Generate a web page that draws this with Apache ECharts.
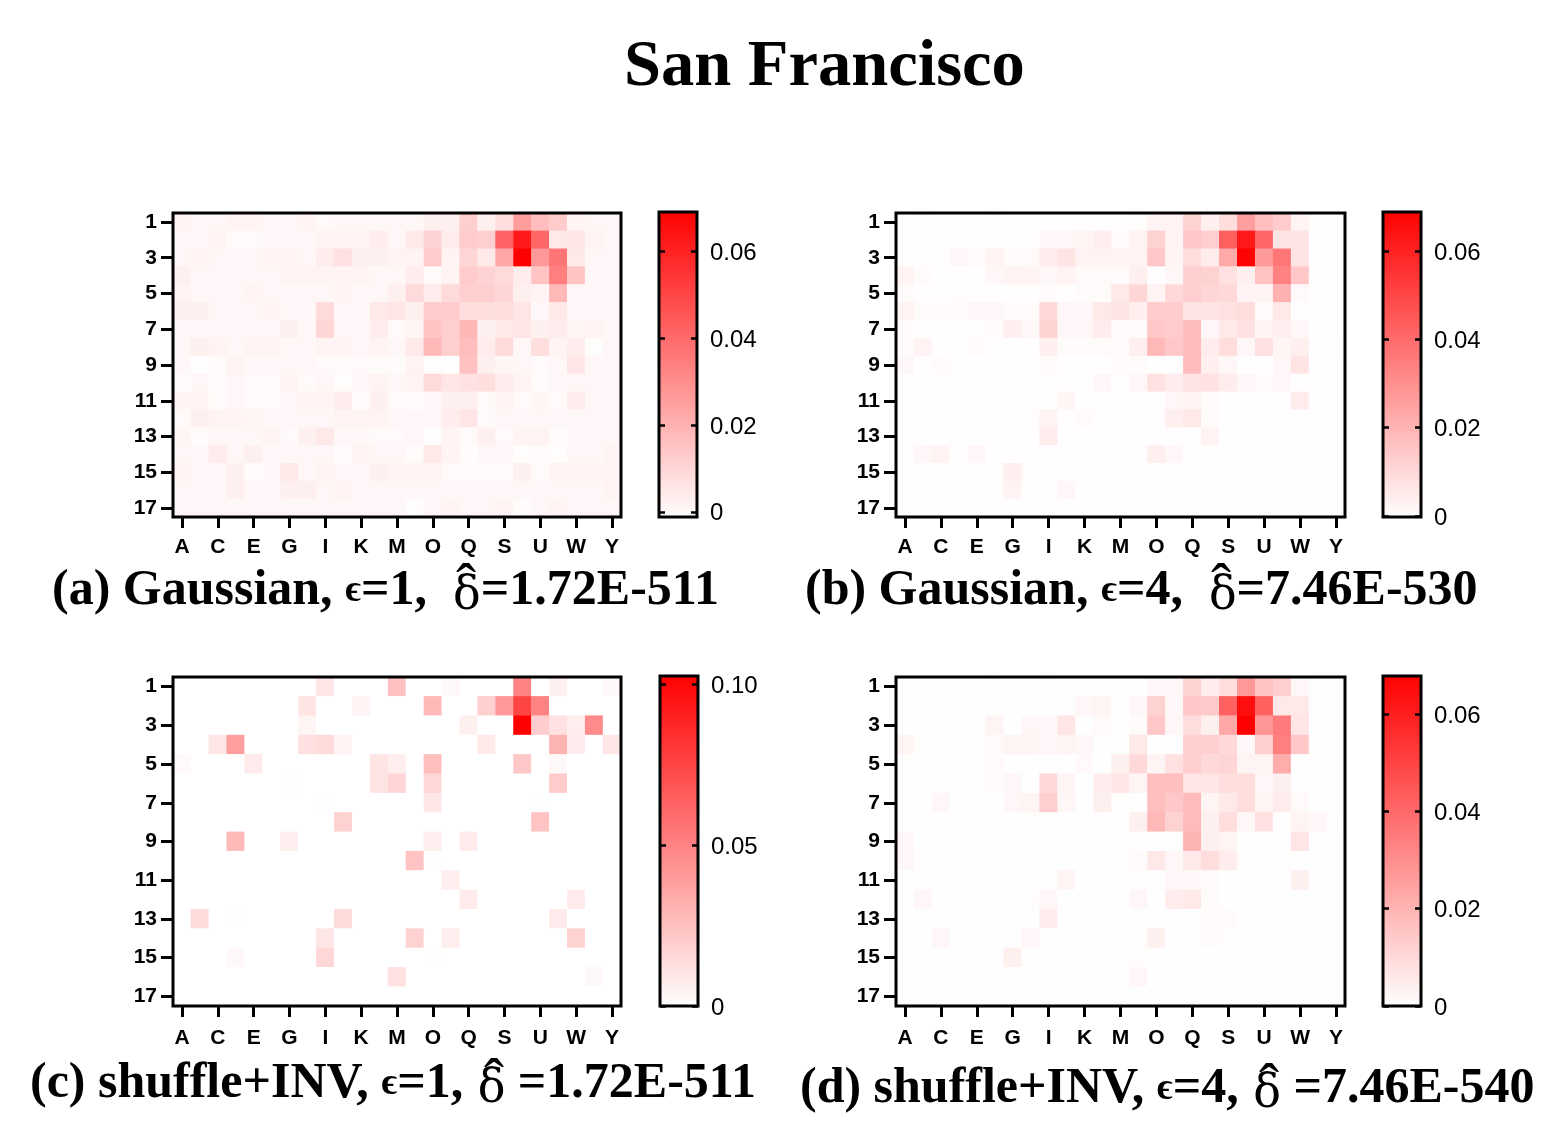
<!DOCTYPE html>
<html>
<head>
<meta charset="utf-8">
<title>San Francisco</title>
<script src="https://cdn.jsdelivr.net/npm/echarts@6/dist/echarts.min.js"></script>
<style>
  html, body { margin: 0; padding: 0; background: #ffffff; }
  #main { width: 1565px; height: 1144px; }
</style>
</head>
<body>
<div id="main"></div>
<script>
// 列 A..Y, 行 1..17
const columns = 'ABCDEFGHIJKLMNOPQRSTUVWXY'.split('')
const rows = Array.from({ length: 17 }, (_, i) => String(i + 1))

// values below are in units of 1e-3
const gaussianEps1 = [
  [2,1,1,2,2,1,1,2,.5,1,1,1,1,1,3,3,12,3,8,26,17,13,2,1,1],
  [1,1,2,.5,.5,1,1,1,2,2,2,4,1,5,11,4,13,12,42,62,41,5,6,2,1],
  [1,2,1,1,1,2,2,1,4,7,3,3,2,2,13,2,10,5,23,69,27,37,5,1,1],
  [3,1,1,1,1,1,2,2,2,2,2,1,1,4,.5,2,13,11,9,4,15,34,15,1,1],
  [2,1,1,1,2,1,1,1,1,2,1,1,3,9,4,9,12,12,10,3,2,18,1,1,1],
  [3,3,1,1,1,2,1,1,9,1,1,5,6,3,13,13,8,8,8,6,1,5,1,1,1],
  [1,1,1,1,1,1,3,1,10,1,1,4,.5,1.5,15,12,19,3,5,6,3,4,1.5,2,1],
  [1,3,2,1,2,2,1,1,2,2,1,2,1,5,18,12,17,4,9,1,8,2,4,-.5,1],
  [1,-1,0,2,1,1,1,1,.5,.5,.5,0,0,2,-.5,-1,16,3,1.5,1,.5,1,6,1,1],
  [0,1,0,1,.5,.5,2,.5,1,-.5,1,2,1,2,9,6,7,8,4,2,0,1,1,1,1],
  [2,2,0,1,.5,.5,1,2,2,4,0,3,.5,0,1,3,3,.5,2,.5,1.5,.5,4,1,1],
  [.5,3,2,2,1.5,1,1,1,1,2,2,2,1,1,1,4,6,.5,1,1,1,1,1,1,1],
  [1.5,0,1,1,1,2,.5,3,5,1,1,.5,.5,1,-.5,2,.5,3,.5,2,2,0,1,1,1],
  [1,1,4,1,3,1,1,1,1,0,2,1,1,0,5,2,0,1,1,-.5,0,-.5,1,1,2],
  [2,1,1,3,0,1,5,1,2,1,1,3,2,2,2,.5,.5,.5,0,3,.5,2,2,2,2],
  [1,1,1,3,1,1,3,3,1,2,1,1,1,1,1,1,1,1,1,1,1,1,1,1,2],
  [1,1,1,1,1,1,1,1,1,1,1,1,1,-.5,1,2,1,1,2,0,1,2,1,1,1]
]
const gaussianEps4 = [
  [.3,.7,.3,.3,.3,.7,.3,.3,.3,.3,.3,.3,.3,.7,3,3,12,4,9,26,17,14,3,.3,.3],
  [.3,.3,.3,.3,.3,.7,.3,.3,2,2,2.5,4,1.5,3,12,3,15,13,43,62,41,7,7,.3,.3],
  [.3,.3,.3,2,1.5,3,1,1.5,5,7,3,3,3,3,15,3,9,5,23,68,27,37,7,.3,.3],
  [3,1,.3,.3,.3,2,3,3,2,3,1.5,1.5,1.5,4,.3,2,13,12,8,4,16,34,15,.3,.3],
  [1,.3,.3,.7,.3,.3,.3,.3,1,.3,1,1,6,11,3,10,13,11,10,3,3,21,1.5,.3,.3],
  [3,1,1,1,2,2,1,1,10,2,2,6,7,4,14,14,7,7,8,9,1.5,6,.3,.3,.3],
  [1,.3,.3,.3,.3,1,4,2,12,2,2,5,1,1,15,14,18,2,6,8,3,4,2,.3,.3],
  [1,3,.3,.3,1,.3,.3,.3,4,1,1,1,1,4,19,15,18,5,9,2,8,2.5,4,.3,.7],
  [2,.3,1,.3,.3,.3,.3,.3,1,.3,.3,.3,1,1,.1,.1,18,4,2,.3,.3,2,7,.3,.3],
  [.3,.3,.3,.3,.3,.3,.7,.3,.3,.3,.3,2,.3,2,8,5,7,8,5,2,1,2,.3,.3,.3],
  [.3,.3,.3,.3,.3,.3,.3,.3,.3,2.5,.3,.3,.3,.3,.3,2,3,1,.3,.3,.3,.3,5,.3,.3],
  [.3,.3,.7,.3,.3,.7,.3,.7,3,.3,1,.3,.3,.7,.3,4,6,1,.3,.3,.3,.3,.3,.3,.3],
  [.3,.3,.3,.7,.3,.7,.3,.3,5,.3,.3,.3,.3,.3,.3,.3,.3,3,.3,.3,.3,.3,.3,.3,.3],
  [.3,2,3,.3,2,.3,.3,.3,.3,.3,.3,.3,.3,.3,4,2,.3,.3,.3,.3,.3,.3,.3,.3,.3],
  [.3,.3,.3,.3,.3,.7,4,.7,.3,.3,.3,.3,.3,.3,.3,.3,.3,.3,.3,.3,.3,.7,.3,.3,.3],
  [.3,.3,.7,.3,.3,.3,3,.3,.3,2,.3,.7,.3,.7,.3,.3,.3,.3,.3,.3,.3,.3,.7,.3,.3],
  [.3,.3,.3,.3,.3,.3,.3,.3,.3,.3,.3,.3,.3,.3,.3,.3,.3,.3,.3,.3,.7,.3,.3,.3,.3]
]
const shuffleEps1 = [
  [0,0,0,0,0,0,0,0,10,0,0,0,25,0,0,3,0,0,0,50,0,6,0,0,3],
  [0,0,0,0,0,0,0,11,0,0,5,0,0,0,28,0,0,19,41,75,50,0,0,0,0],
  [0,0,0,0,0,0,0,4,0,0,0,0,0,0,0,0,6,0,0,102,20,12,7,47,0],
  [0,0,10,39,0,0,0,13,15,5,0,0,0,0,0,0,0,9,0,0,0,30,8,0,10],
  [2.5,0,0,0,8,0,0,0,0,0,0,11,7,0,26,0,0,0,0,22,0,3,0,0,0],
  [0,0,0,0,0,0,.5,0,0,0,0,11,17,0,16,0,0,0,0,0,0,21,0,0,0],
  [0,0,0,0,0,0,0,0,.5,0,0,0,0,0,10,0,0,0,0,0,.5,0,0,0,0],
  [0,0,0,0,0,0,0,0,0,18,0,0,0,0,0,0,0,0,0,0,24,0,0,0,0],
  [0,0,0,28,0,0,7,0,0,0,0,0,0,0,7,0,8,0,0,0,0,0,0,0,0],
  [0,0,0,0,0,0,0,0,0,0,0,0,0,24,.5,0,0,0,0,0,0,0,0,0,0],
  [0,0,0,0,0,0,0,0,0,0,0,0,0,0,0,7,0,0,0,0,0,0,0,0,0],
  [0,0,0,0,0,0,0,0,0,0,0,0,0,0,0,0,8,0,0,0,0,0,8,0,0],
  [0,15,0,.5,0,0,0,0,0,14,0,0,0,0,0,0,0,0,0,0,0,8,0,0,0],
  [0,0,0,0,0,0,0,0,10,0,0,0,0,18,0,7,0,0,0,0,0,0,18,0,0],
  [0,0,0,3,0,0,0,0,16,0,0,0,0,0,.5,0,0,0,0,0,0,0,0,0,0],
  [0,0,0,0,0,0,0,0,0,0,0,0,12,0,0,0,0,0,0,0,0,0,0,3,0],
  [0,0,0,0,0,0,0,0,0,0,0,0,0,0,0,0,0,0,0,0,0,0,0,0,0]
]
const shuffleEps4 = [
  [.2,.2,.2,.2,.2,.7,.2,.2,.7,.2,.2,.2,.2,.2,2,2,12,5,9,27,16,13,2,.7,.7],
  [.2,.7,.2,.2,.2,.2,.2,.2,.2,.7,2,3,.2,2,12,2,15,14,42,64,42,6,6,.7,.2],
  [.2,.2,.2,.2,.2,3,.2,2,2,7,.2,1.5,.2,1,15,2,9,4,23,68,28,35,7,.3,.2],
  [3,.7,.2,.2,.2,1.5,3,3,2,3,2,.2,.2,6,.3,.3,13,13,10,2,13,34,15,.2,.2],
  [.7,.2,.3,.2,.2,1.5,.2,.2,.3,.2,1.5,.2,4,10,3,8,13,10,11,3,3,22,.2,.2,.2],
  [.2,.2,.3,.2,.2,1,2,.2,10,3,.2,5,7,3,17,17,7,7,9,9,2,4,.2,.2,.2],
  [.2,.2,2,.2,.2,.2,2,3,13,2.5,.3,4,.7,.2,17,15,18,3,6,9,3,5,1.5,.2,.2],
  [.2,.2,.2,.7,.2,.2,.2,.7,.7,.2,.2,.2,.7,4,19,12,18,4,9,2,8,.2,3,2,.5],
  [2,.2,.2,.2,.2,.2,.2,.2,.2,.2,.2,.2,.7,.2,.2,.2,20,4,3,.2,.2,.7,7,.2,.2],
  [2,.7,.2,.2,.2,.2,.2,.2,.2,.2,.2,.2,.2,1,6,2,6,9,5,.7,.3,.7,.2,.2,.2],
  [.2,.2,.2,.2,.2,.3,.2,.2,.2,3,.2,.2,.2,.2,.2,2,2,1,.2,.2,.2,.2,4,.5,.2],
  [.2,2,.2,.2,.2,.7,.2,.7,2,.2,.2,.5,.2,2,.2,5,6,1,.2,.2,.2,.2,.2,.2,.2],
  [.2,.2,.2,.2,.2,.2,.2,.2,5,.2,.2,.2,.2,.2,.2,.5,.3,1,1,.2,.2,.2,.2,.2,.2],
  [.2,.2,2,.2,.2,.2,.2,2,.2,.2,.2,.2,.2,.7,4,.2,.2,1,.7,.2,.2,.2,.2,.2,.2],
  [.7,.2,.2,.2,.2,.2,4,.2,.5,.2,.2,.2,.2,.7,.2,.2,.2,.2,.2,.2,.2,.2,.2,.2,.2],
  [.2,.2,.2,.2,.2,.2,.7,.2,.2,.7,.2,.2,.2,2,.2,.2,.2,.2,.2,.2,.2,.2,.2,.2,.2],
  [.5,.2,.2,.2,.2,.7,.2,.2,.2,.2,.2,.2,.2,.2,.2,.5,.2,.2,.2,.2,.2,.2,.2,.2,.2]
]

// colour scale limits and colour bar tick labels
const colorLimits = [[-0.0012, 0.069], [-0.0002, 0.0688], [0, 0.1025], [0, 0.0678]]
const barTicks = [[0, 0.02, 0.04, 0.06], [0, 0.02, 0.04, 0.06], [0, 0.05, 0.1], [0, 0.02, 0.04, 0.06]]
const mainTitle = 'San Francisco'
const captions = [
  ['(a) Gaussian, ', '=1,  ', '=1.72E-511'],
  ['(b) Gaussian, ', '=4,  ', '=7.46E-530'],
  ['(c) shuffle+INV, ', '=1, ', ' =1.72E-511'],
  ['(d) shuffle+INV, ', '=4, ', ' =7.46E-540']
]

const panelData = [gaussianEps1, gaussianEps4, shuffleEps1, shuffleEps4]
// 每个面板的位置
const panelBoxes = [
  { left: 173, top: 213, width: 448, height: 304, barLeft: 659, xMargin: 20, capLeft: 52, capTop: 562, deltaPad: 1, hatX: 466, hatY: 558 },
  { left: 896, top: 213, width: 449, height: 304, barLeft: 1383, xMargin: 20, capLeft: 805, capTop: 562, deltaPad: 1, hatX: 1221, hatY: 558 },
  { left: 173, top: 677, width: 448, height: 329, barLeft: 660, xMargin: 22, capLeft: 30, capTop: 1055, deltaPad: 2, hatX: 494, hatY: 1053 },
  { left: 896, top: 677, width: 449, height: 329, barLeft: 1383, xMargin: 22, capLeft: 800, capTop: 1060, deltaPad: 2, hatX: 1269, hatY: 1058 }
]

const serif = '"Liberation Serif", "Times New Roman", serif'
const sans = '"Liberation Sans", Arial, sans-serif'

const option = {
  backgroundColor: '#ffffff',
  animation: false,
  title: [],
  grid: [],
  xAxis: [],
  yAxis: [],
  visualMap: [],
  graphic: [],
  series: []
}

option.title.push({
  text: mainTitle,
  left: 624,
  top: 34,
  padding: 0,
  textStyle: { fontFamily: serif, fontWeight: 'bold', fontSize: 66.5, color: '#000' }
})

panelBoxes.forEach((box, p) => {
  const gridIdx = option.grid.length
  const xIdx = option.xAxis.length
  const yIdx = option.yAxis.length
  // heatmap grid, z above series so the frame stays on top of the cells
  option.grid.push({
    show: true, z: 3, left: box.left, top: box.top, width: box.width, height: box.height,
    backgroundColor: 'transparent', borderColor: '#000', borderWidth: 3
  })
  option.xAxis.push({
    type: 'category', gridIndex: gridIdx, data: columns, splitLine: { show: false },
    axisLine: { show: false },
    axisTick: { show: true, alignWithLabel: true, interval: 1, length: 11, lineStyle: { color: '#000', width: 3 } },
    axisLabel: { interval: 1, margin: box.xMargin, color: '#000', fontFamily: sans, fontWeight: 'bold', fontSize: 21 }
  })
  option.yAxis.push({
    type: 'category', gridIndex: gridIdx, data: rows, inverse: true, splitLine: { show: false },
    axisLine: { show: false },
    axisTick: { show: true, alignWithLabel: true, interval: 1, length: 12, lineStyle: { color: '#000', width: 3 } },
    axisLabel: { interval: 1, margin: 16, color: '#000', fontFamily: sans, fontWeight: 'bold', fontSize: 21 }
  })
  const cells = []
  panelData[p].forEach((row, r) => row.forEach((v, c) => cells.push([c, r, v / 1000])))
  option.series.push({
    type: 'heatmap', name: captions[p][0].trim(), xAxisIndex: xIdx, yAxisIndex: yIdx,
    data: cells, silent: true, z: 2
  })
  option.visualMap.push({
    show: false, type: 'continuous', seriesIndex: p, dimension: 2,
    min: colorLimits[p][0], max: colorLimits[p][1],
    inRange: { color: ['#ffffff', '#ff0000'] }
  })

  // colour bar: gradient grid with tick marks on both sides
  const barIdx = option.grid.length
  option.grid.push({
    show: true, z: 0, left: box.barLeft, top: box.top - 1, width: 38, height: box.height + 1,
    borderColor: '#000', borderWidth: 3,
    backgroundColor: new echarts.graphic.LinearGradient(0, 0, 0, 1, [
      { offset: 0, color: '#ff0000' }, { offset: 1, color: '#ffffff' }
    ])
  })
  option.xAxis.push({ type: 'value', gridIndex: barIdx, show: false, min: 0, max: 1 })
  // onZero off, otherwise the right axis jumps to x=0 of the hidden xAxis
  const yCommon = { type: 'value', gridIndex: barIdx, min: colorLimits[p][0], max: colorLimits[p][1], splitLine: { show: false }, axisLine: { show: false, onZero: false } }
  const tickStyle = { show: true, inside: true, length: 6, customValues: barTicks[p], lineStyle: { color: '#000', width: 2.5 } }
  option.yAxis.push(Object.assign({}, yCommon, {
    position: 'right',
    axisTick: tickStyle,
    axisLabel: {
      margin: 13, customValues: barTicks[p],
      formatter: v => '{v|' + (v === 0 ? '0' : v.toFixed(2)) + '}',
      rich: { v: { color: '#000', fontFamily: sans, fontSize: 24, padding: [4, 0, 0, 0] } }
    }
  }))
  option.yAxis.push(Object.assign({}, yCommon, {
    position: 'left', axisTick: tickStyle, axisLabel: { show: false }
  }))

  option.title.push({
    left: box.capLeft, top: box.capTop, padding: 0,
    text: '{b|' + captions[p][0] + '}{e|\u03f5}{b|' + captions[p][1] + '}{d|\u03b4}{b|' + captions[p][2] + '}',
    textStyle: {
      rich: {
        b: { fontFamily: serif, fontWeight: 'bold', fontSize: 50, color: '#000' },
        e: { fontFamily: serif, fontWeight: 'bold', fontSize: 38, color: '#000' },
        d: { fontFamily: '"DejaVu Serif", serif', fontWeight: 'normal', fontSize: 46, color: '#000', padding: [12, 0, 0, box.deltaPad] }
      }
    }
  })
  // the hat over the delta
  option.graphic.push({
    type: 'text', x: box.hatX, y: box.hatY, z: 10, silent: true,
    style: { text: '\u02c6', font: '60px ' + serif, fill: '#000', align: 'center', verticalAlign: 'alphabetic' }
  })
})

const chart = echarts.init(document.getElementById('main'))
chart.setOption(option)
</script>
</body>
</html>
